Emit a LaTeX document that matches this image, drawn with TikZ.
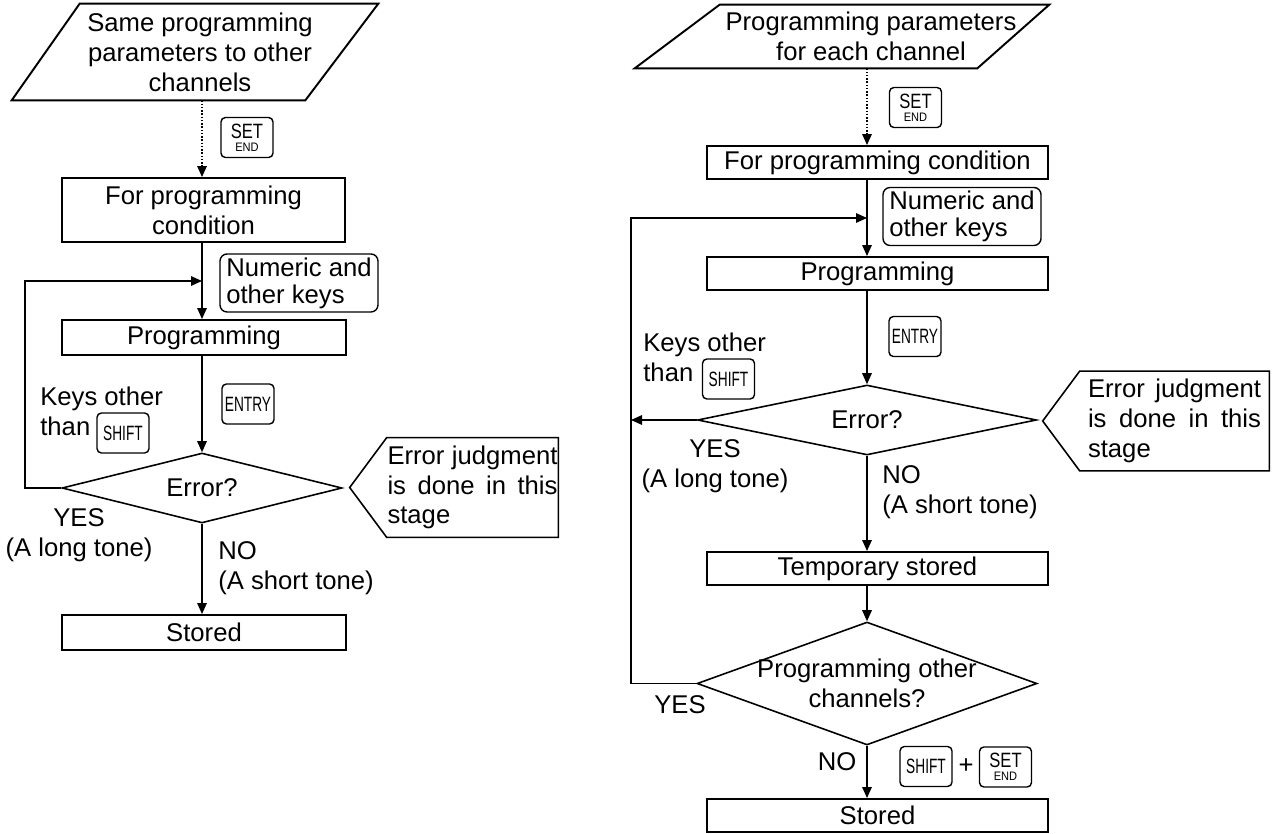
\documentclass[tikz,border=0pt]{standalone}
\usepackage{fontspec}
\setmainfont{Liberation Sans}
\usetikzlibrary{arrows.meta}
\usetikzlibrary{shapes.geometric}

\newcommand{\keylbl}[1]{\scalebox{0.66}[1]{#1}}
\newcommand{\setlbl}{\scalebox{0.8}[1]{SET}\\[-2pt]{\fontsize{7}{7}\selectfont\scalebox{0.9}[1]{END}}}

\begin{document}
\begin{tikzpicture}[x=0.02cm,y=-0.02cm]
    \tikzset{every node/.style = {font=\fontsize{14.6}{17}\selectfont}}
    \tikzset{input/.style = {shape=rectangle,draw=none,inner sep=0pt,align=center}}
    \tikzset{box/.style = {shape=rectangle,draw,line width=1.1pt,inner sep=0pt,align=center}}
    \tikzset{choice/.style = {shape=diamond,draw,line width=0.9pt,inner sep=0pt,aspect=4,align=center}}
    \tikzset{keycap/.style = {shape=rectangle,draw,rounded corners=2.5pt,line width=0.8pt,inner sep=0pt,minimum width=1.04cm,minimum height=0.8cm,align=center,font=\fontsize{11.8}{9.5}\selectfont}}
    \tikzset{hint/.style = {shape=rectangle,draw,rounded corners=4pt,line width=0.8pt,inner sep=0pt,minimum width=3.16cm,minimum height=1.16cm,align=left,font=\fontsize{14.6}{15.3}\selectfont}}
    \tikzset{tag/.style = {inner sep=0pt,align=left}}
    \tikzset{note/.style = {inner xsep=0.01cm,inner ysep=0pt,minimum height=1.98cm,align=justify}}
    \tikzset{edge/.style = {line width=0.85pt,-{Triangle[length=0.22cm,width=0.19cm]}}}
    \tikzset{softedge/.style = {edge,densely dotted}}

    \useasboundingbox (0,0) rectangle (1275,834);

    % left flow: same parameters to other channels

    \coordinate (axis1) at (202,0);
    \coordinate (back1) at (25,0);
    \coordinate (join1) at (202,281);

    \node[input,minimum width=6cm,minimum height=1.92cm] (in1) at (200,52) {Same programming\\parameters to other\\channels};
    \draw[line width=1.1pt] ([xshift=0.6cm]in1.north west) -- ([xshift=0.56cm]in1.north east) -- ([xshift=-0.9cm]in1.south east) -- ([xshift=-0.76cm]in1.south west) -- cycle;
    \node[keycap] (set1) at (247,137.5) {\setlbl};
    \node[box,minimum width=5.66cm,minimum height=1.28cm] (cond1) at (203.5,210) {For programming\\condition};
    \node[hint] (num1) at (299,283) {Numeric and\\other keys};
    \node[box,minimum width=5.68cm,minimum height=0.7cm] (prog1) at (204,337.5) {Programming};
    \node[keycap] (entry1) at (248,404) {\keylbl{ENTRY}};
    \node[tag,anchor=west] (keys1) at (40,411) {Keys other\\than};
    \node[keycap] (shift1) at (123,433) {\keylbl{SHIFT}};
    \node[choice,minimum width=5.6cm,minimum height=1.4cm] (err1) at (202,488) {Error?};
    \node[tag,align=center] (yes1) at (79,535) {YES\\(A long tone)};
    \node[tag,anchor=west] (no1) at (218,568) {NO\\(A short tone)};
    \node[box,minimum width=5.68cm,minimum height=0.7cm] (done1) at (204,632.5) {Stored};
    \node[note,text width=3.4cm] (note1) at (472.5,487.5) {Error judgment is done in this stage};
    \draw[line width=0.9pt] (note1.north west) -- (note1.north east) -- (note1.south east) -- (note1.south west) -- ([xshift=-0.74cm]note1.west) -- cycle;

    \draw[softedge] (in1.south -| axis1) -- (cond1.north -| axis1);
    \draw[edge] (cond1.south -| axis1) -- (prog1.north -| axis1);
    \draw[edge] (prog1.south -| axis1) -- (err1.north);
    \draw[edge] (err1.south) -- (done1.north -| axis1);
    \draw[edge] (err1.west) -- (err1.west -| back1) |- (join1);

    % right flow: parameters for each channel

    \coordinate (axis2) at (867,0);
    \coordinate (back2) at (631,0);
    \coordinate (join2) at (867,218);

    \node[input,minimum width=6.4cm,minimum height=1.26cm] (in2) at (871,36.5) {Programming parameters\\for each channel};
    \draw[line width=1.1pt] ([xshift=0.18cm]in2.north west) -- ([xshift=0.36cm]in2.north east) -- ([xshift=-1.08cm]in2.south east) -- ([xshift=-1.52cm]in2.south west) -- cycle;
    \node[keycap] (set2) at (915.5,107.5) {\setlbl};
    \node[box,minimum width=6.82cm,minimum height=0.66cm] (cond2) at (877.5,162.5) {For programming condition};
    \node[hint] (num2) at (962,216.5) {Numeric and\\other keys};
    \node[box,minimum width=6.82cm,minimum height=0.66cm] (prog2) at (877.5,273.5) {Programming};
    \node[keycap] (entry2) at (915,336.5) {\keylbl{ENTRY}};
    \node[tag,anchor=west] (keys2) at (643,357.5) {Keys other\\than};
    \node[keycap] (shift2) at (728.5,379) {\keylbl{SHIFT}};
    \node[choice,minimum width=6.78cm,minimum height=1.4cm] (err2) at (867,420) {Error?};
    \node[tag,align=center] (yes2) at (715,466.5) {YES\\(A long tone)};
    \node[tag,anchor=west] (no2) at (882,492.5) {NO\\(A short tone)};
    \node[note,text width=3.46cm,minimum width=3.78cm] (note2) at (1174.5,421) {Error judgment is done in this stage};
    \draw[line width=0.9pt] (note2.north west) -- (note2.north east) -- (note2.south east) -- (note2.south west) -- ([xshift=-0.74cm]note2.west) -- cycle;
    \node[box,minimum width=6.82cm,minimum height=0.66cm] (temp2) at (877.5,568.5) {Temporary stored};
    \node[choice,aspect=2.76,inner sep=-0.3cm,minimum width=6.8cm,minimum height=2.46cm] (more2) at (867,683.5) {Programming other\\channels?};
    \node[tag] (yes3) at (680,705) {YES};
    \node[tag] (no3) at (837,762) {NO};
    \node[keycap] (shift3) at (926,766.5) {\keylbl{SHIFT}};
    \node[tag] (plus3) at (966,766) {+};
    \node[keycap] (set3) at (1005.5,767) {\setlbl};
    \node[box,minimum width=6.82cm,minimum height=0.66cm] (done2) at (877.5,815.5) {Stored};

    \draw[softedge] (in2.south -| axis2) -- (cond2.north -| axis2);
    \draw[edge] (cond2.south -| axis2) -- (prog2.north -| axis2);
    \draw[edge] (prog2.south -| axis2) -- (err2.north);
    \draw[edge] (err2.south) -- (temp2.north -| axis2);
    \draw[edge] (err2.west) -- (err2.west -| back2);
    \draw[edge] (temp2.south -| axis2) -- (more2.north);
    \draw[edge] (more2.south) -- (done2.north -| axis2);
    \draw[edge] (more2.west) -- (more2.west -| back2) |- (join2);
\end{tikzpicture}
\end{document}
